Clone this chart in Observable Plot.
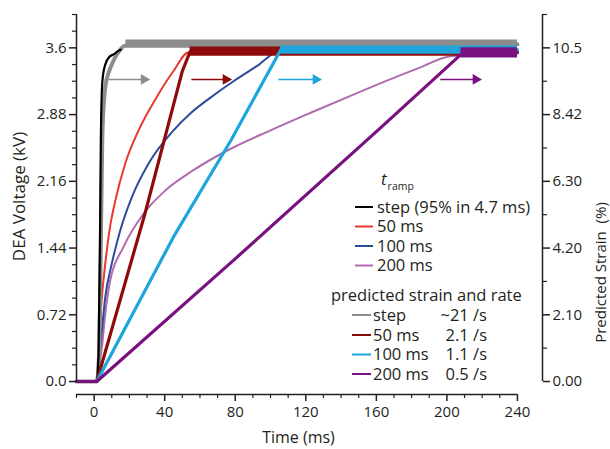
<!DOCTYPE html>
<html><head><meta charset="utf-8">
<script src="https://cdn.jsdelivr.net/npm/d3@7"></script>
<script src="https://cdn.jsdelivr.net/npm/@observablehq/plot@0.6"></script>
<style>
body{margin:0;background:#fff;}
#chart{position:relative;width:610px;height:449px;overflow:hidden;}
svg text{font-family:"Open Sans",sans-serif;}
</style></head><body><div id="chart"></div>
<script>
// ---- measured DEA voltage (kV) ----
const stepVoltT = [-10, 1.5, 2.5, 3.3, 3.8, 4.3, 5, 6.5, 8.5, 11, 14, 15];
const stepVoltV = [0, 0, 0.3, 1.5, 2.6, 3.1, 3.3, 3.43, 3.5, 3.53, 3.57, 3.58];
const ramp50VoltT = [-10, 1.5, 2.5, 4.4, 6.3, 8.7, 12.5, 17.6, 25.2, 35.5, 45, 53.5, 240];
const ramp50VoltV = [0, 0, 0.35, 0.91, 1.27, 1.63, 1.99, 2.35, 2.71, 3.07, 3.35, 3.55, 3.55];
const ramp100VoltT = [-10, 1.5, 2.5, 4.4, 6.3, 10, 14.8, 21.4, 30.8, 45, 55, 65, 79, 92, 105.8, 240];
const ramp100VoltV = [0, 0, 0.2, 0.55, 0.91, 1.27, 1.63, 1.99, 2.35, 2.71, 2.9, 3.05, 3.24, 3.4, 3.57, 3.57];
const ramp200VoltT = [-10, 1.5, 2.5, 4.4, 6.3, 9.1, 16.6, 28, 40.3, 56.3, 75.2, 100, 122.8, 145, 162.5, 185, 202, 240];
const ramp200VoltV = [0, 0, 0.12, 0.37, 0.73, 1.09, 1.45, 1.81, 2.06, 2.28, 2.49, 2.71, 2.9, 3.08, 3.22, 3.39, 3.51, 3.54];
// ---- predicted strain (plotted on the voltage-equivalent scale) ----
const stepStrainT = [-10, 1.5, 2.8, 3.8, 4.6, 5.5, 6.5, 8, 10, 12, 14, 17, 22, 240];
const stepStrainV = [0, 0, 0.3, 1.5, 2.6, 3.0, 3.2, 3.32, 3.42, 3.5, 3.56, 3.62, 3.64, 3.64];
const ramp50StrainT = [-10, 1.5, 28.8, 50, 54.4, 240];
const ramp50StrainV = [0, 0, 1.81, 3.35, 3.56, 3.56];
const ramp100StrainT = [-10, 1.5, 45, 77.5, 105.8, 240];
const ramp100StrainV = [0, 0, 1.56, 2.6, 3.58, 3.58];
const ramp200StrainT = [-10, 1.5, 80.9, 162.5, 208, 240];
const ramp200StrainV = [0, 0, 1.34, 2.74, 3.53, 3.55];
// noisy plateau bands of the strain traces (start time, low, high)
const bandStart = [18, 54.4, 105.8, 208];
const bandEnd = 240;
const bandLow = [3.595, 3.51, 3.53, 3.49];
const bandHigh = [3.685, 3.61, 3.62, 3.6];

// ---- arrows ----
const arrowStart = [8.3, 55.4, 104.7, 196.5];
const arrowEnd = [31.1, 77.5, 128.5, 219.2];
const arrowLevel = 3.26;

// ---- ticks ----
const xMajor = [0, 40, 80, 120, 160, 200, 240];
const xMinor = [-10, 10, 20, 30, 50, 60, 70, 90, 100, 110, 130, 140, 150, 170, 180, 190, 210, 220, 230];
const leftMajor = [0, 0.72, 1.44, 2.16, 2.88, 3.6];
const leftLabels = ["0.0", "0.72", "1.44", "2.16", "2.88", "3.6"];
const leftMinor = [0.18, 0.36, 0.54, 0.9, 1.08, 1.26, 1.62, 1.8, 1.98, 2.34, 2.52, 2.7, 3.06, 3.24, 3.42, 3.78, 3.96];
const rightLabels = ["0.00", "2.10", "4.20", "6.30", "8.42", "10.5"];
const rightMinor = [0.36, 1.08, 1.8, 2.52, 3.24, 3.96];

// ---- legend ----
const voltLabels = ["step (95% in 4.7 ms)", "50 ms", "100 ms", "200 ms"];
const voltColors = ["#000000", "#e8392f", "#2e4a9b", "#b06aae"];
const strainLabels = ["step", "50 ms", "100 ms", "200 ms"];
const strainRates = ["~21 /s", "2.1 /s", "1.1 /s", "0.5 /s"];
const strainColors = ["#8c8c8c", "#8e0b0b", "#1ea6dc", "#7a1180"];

const rows = (ts, vs) => ts.map((t, i) => ({t, v: vs[i]}));
const ink = "#231f20";

const voltSeries = [
  [ramp200VoltT, ramp200VoltV, voltColors[3]],
  [ramp100VoltT, ramp100VoltV, voltColors[2]],
  [ramp50VoltT, ramp50VoltV, voltColors[1]]
];
const strainSeries = [
  [ramp50StrainT, ramp50StrainV, strainColors[1]],
  [ramp100StrainT, ramp100StrainV, strainColors[2]],
  [ramp200StrainT, ramp200StrainV, strainColors[3]]
];
const arrows = arrowStart.map((a, i) => ({x1: a, x2: arrowEnd[i], y: arrowLevel, c: strainColors[i]}));
const band = i => [{t: bandStart[i], lo: bandLow[i], hi: bandHigh[i]}, {t: bandEnd, lo: bandLow[i], hi: bandHigh[i]}];

const marks = [];
voltSeries.forEach(([t, v, c]) => marks.push(Plot.line(rows(t, v), {x: "t", y: "v", stroke: c, strokeWidth: 2, curve: "monotone-x"})));
marks.push(Plot.line(rows(stepStrainT, stepStrainV), {x: "t", y: "v", stroke: strainColors[0], strokeWidth: 4, curve: "monotone-x"}));
marks.push(Plot.areaY(band(0), {x: "t", y1: "lo", y2: "hi", fill: strainColors[0]}));
marks.push(Plot.line(rows(stepVoltT, stepVoltV), {x: "t", y: "v", stroke: voltColors[0], strokeWidth: 2.2, curve: "monotone-x"}));
strainSeries.forEach(([t, v, c], k) => {
  marks.push(Plot.line(rows(t, v), {x: "t", y: "v", stroke: c, strokeWidth: 3.2}));
  marks.push(Plot.areaY(band(k + 1), {x: "t", y1: "lo", y2: "hi", fill: c}));
});
marks.push(
  Plot.ruleY(arrows, {x1: "x1", x2: "x2", y: "y", stroke: "c", strokeWidth: 1.5}),
  Plot.dot(arrows, {x: "x2", y: "y", fill: "c", symbol: "triangle", r: 4, rotate: 90, dx: -5})
);
// axes
marks.push(
  Plot.ruleX([-10], {y1: 0, y2: 3.96, stroke: ink, strokeWidth: 1.5}),
  Plot.ruleX([254.2], {y1: 0, y2: 3.96, stroke: ink, strokeWidth: 1.5}),
  Plot.ruleY([-0.14], {x1: -10, x2: 240, stroke: ink, strokeWidth: 1.5}),
  Plot.axisY({anchor: "left", ticks: leftMajor, tickSize: 7, tickPadding: 3, strokeWidth: 1.5, tickFormat: d => leftLabels[leftMajor.indexOf(d)], label: null, fill: ink}),
  Plot.axisY({anchor: "left", ticks: leftMinor, tickSize: 4, strokeWidth: 1.2, tickFormat: () => "", label: null}),
  Plot.axisY({anchor: "right", ticks: leftMajor, tickSize: 7, tickPadding: 3, strokeWidth: 1.5, tickFormat: d => rightLabels[leftMajor.indexOf(d)], label: null, fill: ink}),
  Plot.axisY({anchor: "right", ticks: rightMinor, tickSize: 4, strokeWidth: 1.2, tickFormat: () => "", label: null}),
  Plot.axisX({anchor: "bottom", ticks: xMajor, tickSize: 7, tickPadding: 5, strokeWidth: 1.5, label: null, fill: ink}),
  Plot.axisX({anchor: "bottom", ticks: xMinor, tickSize: 4, strokeWidth: 1.2, tickFormat: () => "", label: null}),
  Plot.text(["DEA Voltage (kV)"], {frameAnchor: "left", textAnchor: "middle", rotate: -90, dx: -57, dy: -8, fontSize: 17, fill: ink}),
  Plot.text(["Predicted Strain\u00a0 (%)"], {frameAnchor: "right", textAnchor: "middle", rotate: -90, dx: 59, dy: 68, fontSize: 15, fill: ink}),
  Plot.text(["Time (ms)"], {frameAnchor: "bottom", textAnchor: "middle", dx: -11, dy: 48, fontSize: 16, fill: ink})
);

const svg = Plot.plot({
  width: 610, height: 449,
  marginLeft: 76, marginRight: 68, marginTop: 14, marginBottom: 55,
  x: {domain: [-10, 254.2]},
  y: {domain: [-0.14, 3.96]},
  style: {fontFamily: "Open Sans, sans-serif", fontSize: "15px", color: ink, background: "white"},
  marks
});
document.getElementById("chart").appendChild(svg);

// legend
const g = d3.select(svg).append("g")
  .style("font-family", "Open Sans, sans-serif").style("font-size", "16.5px")
  .style("text-anchor", "start").attr("fill", ink);
const tt = g.append("text").attr("x", 381).attr("y", 185).style("font-size", "17px");
tt.append("tspan").style("font-style", "italic").text("t");
tt.append("tspan").style("font-size", "10.5px").attr("dx", 1).attr("dy", 5).text("ramp");
const vy = [207, 226.5, 246, 265.5];
voltLabels.forEach((lab, i) => {
  g.append("line").attr("x1", 355).attr("x2", 373).attr("y1", vy[i]).attr("y2", vy[i]).attr("stroke", voltColors[i]).attr("stroke-width", 2);
  g.append("text").attr("x", 377).attr("y", vy[i]).attr("dy", "0.35em").text(lab);
});
g.append("text").attr("x", 331).attr("y", 295).attr("dy", "0.35em").text("predicted strain and rate");
const sy = [315, 335, 354.5, 374];
strainLabels.forEach((lab, i) => {
  g.append("line").attr("x1", 352).attr("x2", 371).attr("y1", sy[i]).attr("y2", sy[i]).attr("stroke", strainColors[i]).attr("stroke-width", 2);
  g.append("text").attr("x", 373).attr("y", sy[i]).attr("dy", "0.35em").text(lab);
  g.append("text").attr("x", 487).attr("y", sy[i]).attr("dy", "0.35em").style("text-anchor", "end").text(strainRates[i]);
});
</script></body></html>
